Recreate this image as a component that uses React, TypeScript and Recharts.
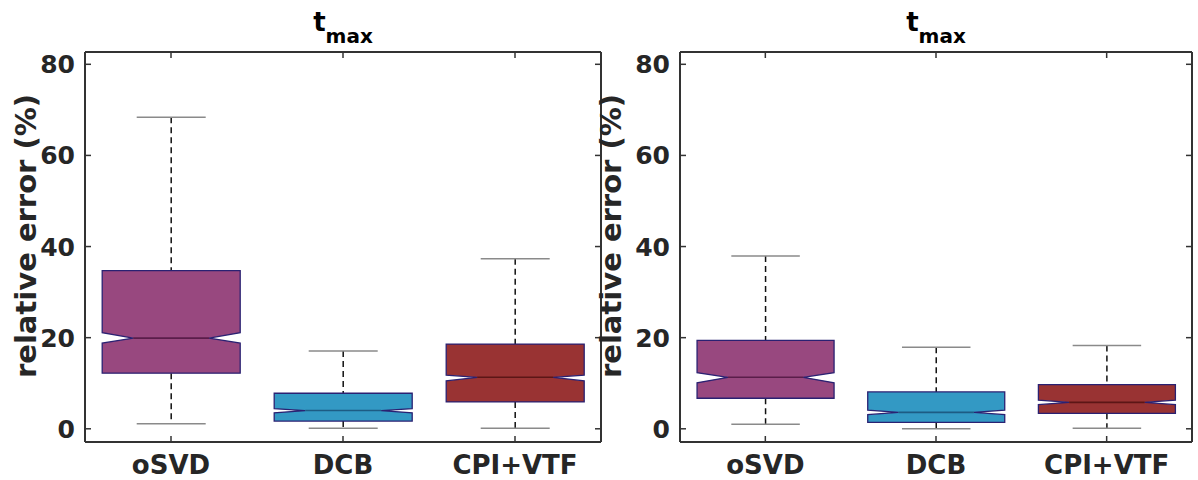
import React from "react";
import { ComposedChart, Bar, XAxis, YAxis } from "recharts";

const categories = ["oSVD", "DCB", "CPI+VTF"];
const boxColors = ["#98487f", "#3399c4", "#993333"];
const medianColors = ["#5a1d4a", "#1d5c84", "#5c1616"];
const yTicks = [0, 20, 40, 60, 80];

// left panel (t_max)
const leftLow = [1.1, 0.1, 0.1];
const leftQ1 = [12.2, 1.7, 5.9];
const leftNotchLow = [18.8, 3.5, 10.5];
const leftMedian = [19.9, 4.0, 11.3];
const leftNotchHigh = [21.1, 4.4, 11.8];
const leftQ3 = [34.7, 7.8, 18.6];
const leftHigh = [68.4, 17.1, 37.3];

// right panel (t_max)
const rightLow = [1.0, 0.0, 0.1];
const rightQ1 = [6.7, 1.4, 3.4];
const rightNotchLow = [10.1, 3.1, 5.3];
const rightMedian = [11.3, 3.6, 5.8];
const rightNotchHigh = [12.3, 4.1, 6.3];
const rightQ3 = [19.4, 8.1, 9.7];
const rightHigh = [37.9, 17.9, 18.3];

const FONT = "'DejaVu Sans', sans-serif";
const INK = "#262626";
const FRAME = "#333333";
const OUTLINE = "#2a2172";

function buildRows(low: number[], q1: number[], nLo: number[], med: number[], nHi: number[], q3: number[], high: number[]) {
  return categories.map((name, i) => ({
    name,
    low: low[i],
    q1: q1[i],
    notchLow: nLo[i],
    median: med[i],
    notchHigh: nHi[i],
    q3: q3[i],
    high: high[i],
    fill: boxColors[i],
    medianColor: medianColors[i],
  }));
}

const leftRows = buildRows(leftLow, leftQ1, leftNotchLow, leftMedian, leftNotchHigh, leftQ3, leftHigh);
const rightRows = buildRows(rightLow, rightQ1, rightNotchLow, rightMedian, rightNotchHigh, rightQ3, rightHigh);

function NotchedBox(props: any) {
  const { x, y, width, height, payload } = props;
  if (!payload || !height) return null;
  // bar spans low..high, so pixels per unit come from the bar itself
  const k = height / (payload.high - payload.low);
  const py = (v: number) => y + (payload.high - v) * k;
  const cx = x + width / 2;
  const left = x;
  const right = x + width;
  const inset = width * 0.225;
  const capHalf = width * 0.25;
  const pts = [
    [left, py(payload.q3)],
    [right, py(payload.q3)],
    [right, py(payload.notchHigh)],
    [right - inset, py(payload.median)],
    [right, py(payload.notchLow)],
    [right, py(payload.q1)],
    [left, py(payload.q1)],
    [left, py(payload.notchLow)],
    [left + inset, py(payload.median)],
    [left, py(payload.notchHigh)],
  ]
    .map((p) => p.join(","))
    .join(" ");

  return (
    <g>
      <line x1={cx} x2={cx} y1={py(payload.high)} y2={py(payload.q3)} stroke="#111" strokeWidth={1.5} strokeDasharray="6 4" />
      <line x1={cx} x2={cx} y1={py(payload.q1)} y2={py(payload.low)} stroke="#111" strokeWidth={1.5} strokeDasharray="6 4" />
      <line x1={cx - capHalf} x2={cx + capHalf} y1={py(payload.high)} y2={py(payload.high)} stroke="#8a8a8a" strokeWidth={1.5} />
      <line x1={cx - capHalf} x2={cx + capHalf} y1={py(payload.low)} y2={py(payload.low)} stroke="#8a8a8a" strokeWidth={1.5} />
      <polygon points={pts} fill={payload.fill} stroke={OUTLINE} strokeWidth={1.3} />
      <line x1={left + inset} x2={right - inset} y1={py(payload.median)} y2={py(payload.median)} stroke={payload.medianColor} strokeWidth={1.6} />
    </g>
  );
}

function BottomTick(props: any) {
  const { x, y, payload } = props;
  return (
    <g>
      <line x1={x} x2={x} y1={y} y2={y - 6} stroke={FRAME} strokeWidth={1.5} />
      <text x={x} y={y + 32} textAnchor="middle" fontFamily={FONT} fontWeight="bold" fontSize={26} fill={INK}>
        {payload.value}
      </text>
    </g>
  );
}

function TopTick(props: any) {
  const { x, y } = props;
  return <line x1={x} x2={x} y1={y} y2={y + 6} stroke={FRAME} strokeWidth={1.5} />;
}

function LeftTick(props: any) {
  const { x, y, payload } = props;
  return (
    <g>
      <line x1={x} x2={x + 6} y1={y} y2={y} stroke={FRAME} strokeWidth={1.5} />
      <text x={x - 10} y={y} dy="0.36em" textAnchor="end" fontFamily={FONT} fontWeight="bold" fontSize={25} fill={INK}>
        {payload.value}
      </text>
    </g>
  );
}

function RightTick(props: any) {
  const { x, y } = props;
  return <line x1={x} x2={x - 6} y1={y} y2={y} stroke={FRAME} strokeWidth={1.5} />;
}

interface PanelProps {
  rows: ReturnType<typeof buildRows>;
  width: number;
  axisWidth: number;
  rightMargin: number;
  labelX: number;
}

function Panel({ rows, width, axisWidth, rightMargin, labelX }: PanelProps) {
  const axisLine = { stroke: FRAME, strokeWidth: 2 };
  const titleX = axisWidth + (width - axisWidth - rightMargin - 1) / 2;
  return (
    <ComposedChart
      width={width}
      height={480}
      data={rows}
      margin={{ top: 51, right: rightMargin, bottom: 0, left: 0 }}
      barCategoryGap="10%"
    >
      <XAxis
        dataKey="name"
        height={38}
        axisLine={axisLine}
        tickLine={false}
        tickSize={0}
        tickMargin={0}
        tick={<BottomTick />}
        interval={0}
      />
      <XAxis
        xAxisId="top"
        orientation="top"
        dataKey="name"
        height={1}
        axisLine={axisLine}
        tickLine={false}
        tickSize={0}
        tickMargin={0}
        tick={<TopTick />}
        interval={0}
        label={{
          content: () => (
            <text x={titleX} y={31} textAnchor="middle" fontFamily={FONT} fontWeight="bold" fill="#000">
              <tspan fontSize={26}>t</tspan>
              <tspan fontSize={20} dy={12}>max</tspan>
            </text>
          ),
        }}
      />
      <YAxis
        type="number"
        domain={[-2.9, 82.7]}
        ticks={yTicks}
        allowDataOverflow
        width={axisWidth}
        axisLine={axisLine}
        tickLine={false}
        tickSize={0}
        tickMargin={0}
        tick={<LeftTick />}
        interval={0}
        label={{
          content: () => (
            <text
              x={labelX}
              y={236}
              transform={`rotate(-90, ${labelX}, 236)`}
              textAnchor="middle"
              dominantBaseline="central"
              fontFamily={FONT}
              fontWeight="bold"
              fontSize={29}
              fill={INK}
            >
              relative error (%)
            </text>
          ),
        }}
      />
      <YAxis
        yAxisId="right"
        orientation="right"
        type="number"
        domain={[-2.9, 82.7]}
        ticks={yTicks}
        allowDataOverflow
        width={1}
        axisLine={axisLine}
        tickLine={false}
        tickSize={0}
        tickMargin={0}
        tick={<RightTick />}
        interval={0}
      />
      <Bar dataKey={(d: any) => [d.low, d.high]} shape={(p: any) => <NotchedBox {...p} />} isAnimationActive={false} />
    </ComposedChart>
  );
}

export default function App() {
  return (
    <div style={{ position: "absolute", top: 0, left: 0, width: 1198, height: 480, background: "#fff" }}>
      <div style={{ position: "absolute", top: 0, left: 0 }}>
        <Panel rows={leftRows} width={602} axisWidth={85} rightMargin={0} labelX={26} />
      </div>
      <div style={{ position: "absolute", top: 0, left: 590 }}>
        <Panel rows={rightRows} width={608} axisWidth={90} rightMargin={5} labelX={21} />
      </div>
    </div>
  );
}
